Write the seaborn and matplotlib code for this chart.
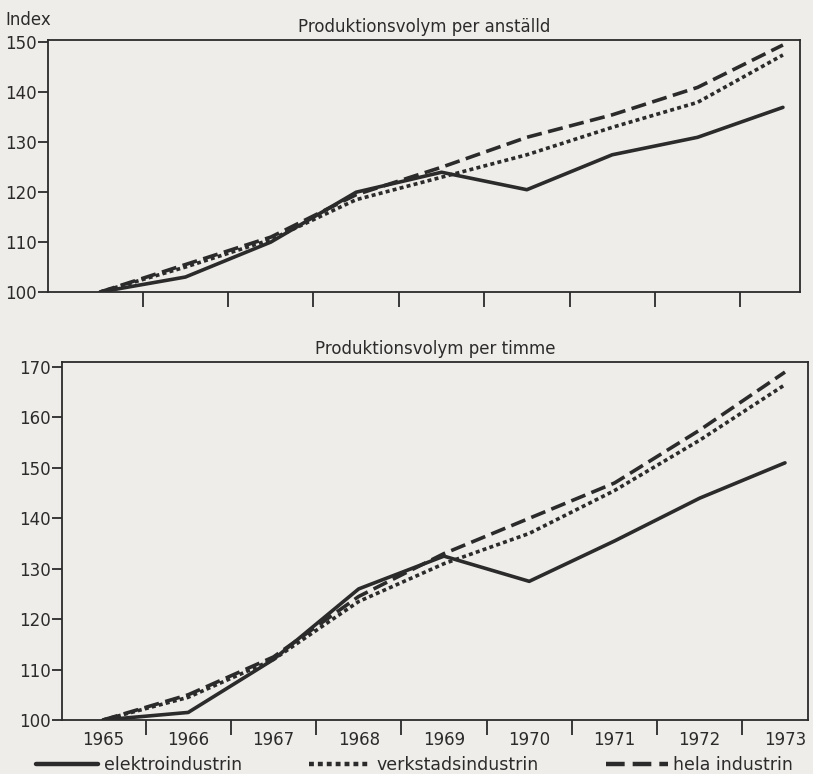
import numpy as np
import pandas as pd
import matplotlib
matplotlib.use("Agg")
import matplotlib.pyplot as plt
import seaborn as sns

# Data
years = [1965, 1966, 1967, 1968, 1969, 1970, 1971, 1972, 1973]
series_names = ["elektroindustrin", "verkstadsindustrin", "hela industrin"]

# Produktionsvolym per anställd
anst_elektro = [100, 103, 110, 120, 124, 120.5, 127.5, 131, 137]
anst_verkstad = [100, 105, 110.5, 118.5, 123, 127.5, 133, 138, 147.5]
anst_hela = [100, 105.5, 111, 119.5, 125, 131, 135.5, 141, 149.5]

# Produktionsvolym per timme
tim_elektro = [100, 101.5, 112, 126, 132.5, 127.5, 135.5, 144, 151]
tim_verkstad = [100, 104.5, 112, 123.5, 131, 137, 145.5, 155.5, 166.5]
tim_hela = [100, 105, 112.5, 124.5, 133, 140, 147, 157.5, 169]

top_title = "Produktionsvolym per anställd"
bottom_title = "Produktionsvolym per timme"

def long_df(values):
    rows = []
    for name, vals in zip(series_names, values):
        for y, v in zip(years, vals):
            rows.append({"year": y, "value": v, "series": name})
    return pd.DataFrame(rows)

df_top = long_df([anst_elektro, anst_verkstad, anst_hela])
df_bot = long_df([tim_elektro, tim_verkstad, tim_hela])

sns.set_style("white")
plt.rcParams["font.family"] = ["Liberation Sans Narrow", "DejaVu Sans"]
bg = "#efede9"
ink = "#2b2b2b"

fig = plt.figure(figsize=(8.13, 7.74), dpi=100, facecolor=bg)
ax1 = fig.add_axes([48/813, 1-292/774, (800-48)/813, (292-40)/774])
ax2 = fig.add_axes([62/813, 1-720/774, (808-62)/813, (720-362)/774])

dashes = {"elektroindustrin": "", "verkstadsindustrin": (1.1, 0.9), "hela industrin": (4.2, 1.8)}

for ax, df, ylim, yt, xlim in [(ax1, df_top, (100, 150.5), range(100, 151, 10), (1964.39, 1973.2)),
                               (ax2, df_bot, (100, 171), range(100, 171, 10), (1964.52, 1973.27))]:
    ax.set_facecolor(bg)
    sns.lineplot(data=df, x="year", y="value", style="series", dashes=dashes,
                 color=ink, linewidth=2.6, ax=ax, legend=False)
    ax.set_xlim(*xlim)
    ax.set_ylim(*ylim)
    ax.set_yticks(list(yt))
    ax.set_xticks([y + 0.5 for y in years[:-1]])
    ax.set_xlabel("")
    ax.set_ylabel("")
    for s in ax.spines.values():
        s.set_color(ink)
        s.set_linewidth(1.3)
    ax.tick_params(axis="y", direction="out", length=7, width=1.3, color=ink,
                   labelsize=12, labelcolor=ink, pad=1, left=True)
    ax.tick_params(axis="x", which="major", direction="out", length=11, width=1.3,
                   color=ink, labelbottom=False, bottom=True)

ax1.set_title(top_title, fontsize=12, color=ink, pad=6)
ax2.set_title(bottom_title, fontsize=12, color=ink, pad=6)

# year labels between the tick marks
ax2.set_xticks(years, minor=True)
ax2.set_xticklabels([str(y) for y in years], minor=True)
ax2.tick_params(axis="x", which="minor", length=0, labelsize=12, labelcolor=ink, pad=8)

fig.text(5/813, 1-20/774, "Index", fontsize=12, color=ink, va="center", ha="left")

handles = [plt.Line2D([], [], color=ink, linewidth=3.2, linestyle="-"),
           plt.Line2D([], [], color=ink, linewidth=3.2, dashes=(1.1, 0.9)),
           plt.Line2D([], [], color=ink, linewidth=3.2, dashes=(4.2, 1.8))]
fig.legend(handles, series_names, loc="lower left", ncol=3, frameon=False,
           bbox_to_anchor=(0.025, -0.02, 0.97, 0.05), mode="expand",
           fontsize=12.5, handlelength=3.6, handletextpad=0.3, labelcolor=ink)

fig.savefig("out.png", dpi=100, facecolor=bg)
